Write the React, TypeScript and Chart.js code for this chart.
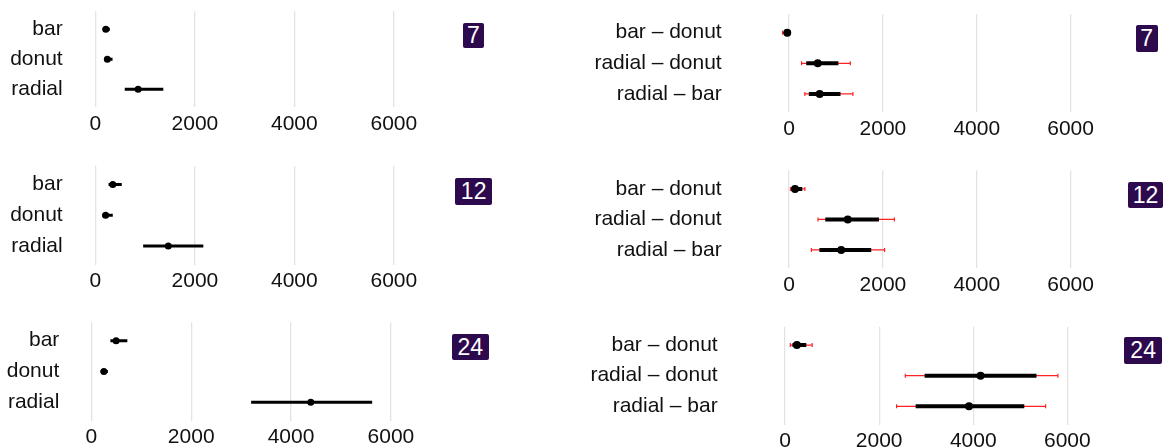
import React, { useEffect, useRef } from 'react';
import { Chart, registerables } from 'chart.js';

Chart.register(...registerables);

// ---------- data ----------
const DESIGNS = ['bar', 'donut', 'radial'];
const CONTRASTS = ['bar – donut', 'radial – donut', 'radial – bar'];
const PANEL_LABELS = ['7', '12', '24'];
const X_TICKS = [0, 2000, 4000, 6000];

// estimates per design (left column)
const EST_7 = [210, 240, 860];
const LO_7 = [145, 185, 590];
const HI_7 = [290, 345, 1365];

const EST_12 = [350, 205, 1465];
const LO_12 = [265, 140, 960];
const HI_12 = [530, 350, 2170];

const EST_24 = [495, 250, 4395];
const LO_24 = [380, 185, 3200];
const HI_24 = [720, 330, 5625];

// contrasts (right column): estimate, inner interval, outer interval
const DIFF_7 = [-40, 610, 650];
const DIFF_IN_LO_7 = [-80, 365, 420];
const DIFF_IN_HI_7 = [0, 1050, 1095];
const DIFF_OUT_LO_7 = [-140, 265, 335];
const DIFF_OUT_HI_7 = [20, 1305, 1360];

const DIFF_12 = [125, 1250, 1110];
const DIFF_IN_LO_12 = [55, 770, 645];
const DIFF_IN_HI_12 = [280, 1915, 1750];
const DIFF_OUT_LO_12 = [28, 615, 475];
const DIFF_OUT_HI_12 = [335, 2245, 2035];

const DIFF_24 = [250, 4155, 3910];
const DIFF_IN_LO_24 = [155, 2965, 2775];
const DIFF_IN_HI_24 = [450, 5345, 5085];
const DIFF_OUT_LO_24 = [110, 2555, 2370];
const DIFF_OUT_HI_24 = [575, 5800, 5540];

// ---------- layout ----------
const FONT = "'Liberation Sans', Arial, Helvetica, sans-serif";

type Box = {
  canvasLeft: number; canvasTop: number; canvasW: number; canvasH: number;
  gridTop: number; gridBottom: number; zero: number; six: number; labelRight: number;
};

const LEFT_BOXES: Box[] = [
  { canvasLeft: 0, canvasTop: 0, canvasW: 450, canvasH: 150, gridTop: 11.3, gridBottom: 107.3, zero: 95.7, six: 397.3, labelRight: 62.7 },
  { canvasLeft: 0, canvasTop: 150, canvasW: 450, canvasH: 150, gridTop: 166, gridBottom: 264.5, zero: 95.7, six: 397.3, labelRight: 62.7 },
  { canvasLeft: 0, canvasTop: 300, canvasW: 450, canvasH: 148, gridTop: 322.2, gridBottom: 420.8, zero: 91.7, six: 394.3, labelRight: 59.3 },
];
const RIGHT_BOXES: Box[] = [
  { canvasLeft: 580, canvasTop: 0, canvasW: 530, canvasH: 150, gridTop: 14.3, gridBottom: 112.3, zero: 790, six: 1075.3, labelRight: 721.7 },
  { canvasLeft: 580, canvasTop: 150, canvasW: 530, canvasH: 150, gridTop: 170.6, gridBottom: 268.2, zero: 790, six: 1075.3, labelRight: 721.7 },
  { canvasLeft: 580, canvasTop: 300, canvasW: 530, canvasH: 148, gridTop: 326.7, gridBottom: 424.7, zero: 786, six: 1072, labelRight: 717.7 },
];
const LEFT_TAGS = [
  { l: 462.7, t: 22.7, w: 21.5, h: 25.5 },
  { l: 455, t: 178.3, w: 37.3, h: 26.7 },
  { l: 451.7, t: 334, w: 37.3, h: 26 },
];
const RIGHT_TAGS = [
  { l: 1135.7, t: 25, w: 22, h: 27.3 },
  { l: 1127.7, t: 181.7, w: 35.6, h: 26.6 },
  { l: 1124, t: 337.3, w: 38.3, h: 26.7 },
];

type PanelProps = {
  box: Box;
  cats: string[];
  est: number[];
  inLo: number[];
  inHi: number[];
  outLo?: number[];
  outHi?: number[];
};

function Panel({ box, cats, est, inLo, inHi, outLo, outHi }: PanelProps) {
  const ref = useRef<HTMLCanvasElement | null>(null);
  useEffect(() => {
    if (!ref.current) return;
    const isDiff = !!outLo;
    const L = box.labelRight + 4;
    const R = box.canvasLeft + box.canvasW;
    const k = (box.six - box.zero) / 6000;
    const xmin = -(box.zero - L) / k;
    const xmax = (R - box.zero) / k;
    const padTop = box.gridTop - box.canvasTop;
    const xAxisH = box.canvasTop + box.canvasH - box.gridBottom;
    const yAxisW = L - box.canvasLeft;

    const datasets: any[] = [];
    datasets.push({
      data: est.map((v, i) => ({ x: v, y: i })),
      pointRadius: isDiff ? 4 : 3.5,
      pointBackgroundColor: '#000',
      pointBorderColor: '#000',
      pointBorderWidth: 0,
      showLine: false,
      order: 0,
    });
    cats.forEach((_, i) => {
      datasets.push({
        data: [{ x: inLo[i], y: i }, { x: inHi[i], y: i }],
        showLine: true,
        borderColor: '#000',
        borderWidth: isDiff ? 4 : 3,
        pointRadius: 0,
        order: 1,
      });
      if (isDiff && outLo && outHi) {
        datasets.push({
          data: [{ x: outLo[i], y: i }, { x: outHi[i], y: i }],
          showLine: true,
          borderColor: '#ff2222',
          borderWidth: 1.2,
          pointStyle: 'line',
          pointRotation: 90,
          pointRadius: 2,
          pointBorderColor: '#ff2222',
          pointBorderWidth: 1.2,
          order: 2,
        });
      }
    });

    const chart = new Chart(ref.current, {
      type: 'scatter',
      data: { datasets },
      options: {
        animation: false,
        responsive: false,
        devicePixelRatio: 1,
        events: [],
        layout: { padding: { left: 0, right: 0, top: padTop, bottom: 0 } },
        plugins: { legend: { display: false }, tooltip: { enabled: false } },
        scales: {
          x: {
            type: 'linear',
            min: xmin,
            max: xmax,
            afterBuildTicks: (s: any) => { s.ticks = X_TICKS.map((v) => ({ value: v })); },
            afterFit: (s: any) => {
              s.height = xAxisH;
              s.paddingLeft = 0; s.paddingRight = 0; s.paddingTop = 0; s.paddingBottom = 0;
            },
            ticks: {
              padding: 4,
              color: '#111',
              autoSkip: false,
              maxRotation: 0,
              font: { family: FONT, size: 21 },
              callback: (v: any) => String(v),
            },
            grid: { color: '#e3e3e3', lineWidth: 1.3, drawTicks: false },
            border: { display: false },
          },
          y: {
            type: 'linear',
            min: -0.6,
            max: 2.6,
            reverse: true,
            afterBuildTicks: (s: any) => { s.ticks = cats.map((_, i) => ({ value: i })); },
            afterFit: (s: any) => {
              s.width = yAxisW;
              s.paddingLeft = 0; s.paddingRight = 0; s.paddingTop = 0; s.paddingBottom = 0;
            },
            ticks: {
              padding: 4,
              color: '#111',
              autoSkip: false,
              font: { family: FONT, size: 21 },
              callback: (v: any) => cats[v as number],
            },
            grid: { display: false, drawTicks: false },
            border: { display: false },
          },
        },
      },
    });
    return () => chart.destroy();
  }, []);
  return (
    <canvas
      ref={ref}
      width={box.canvasW}
      height={box.canvasH}
      style={{ position: 'absolute', left: box.canvasLeft, top: box.canvasTop, width: box.canvasW, height: box.canvasH }}
    />
  );
}

function Tag({ text, pos }: { text: string; pos: { l: number; t: number; w: number; h: number } }) {
  return (
    <div
      style={{
        position: 'absolute',
        left: pos.l,
        top: pos.t,
        width: pos.w,
        height: pos.h,
        lineHeight: pos.h + 'px',
        background: '#2d0a4e',
        color: '#fff',
        borderRadius: 2,
        fontFamily: FONT,
        fontSize: 23,
        textAlign: 'center',
      }}
    >
      {text}
    </div>
  );
}

export default function App() {
  const leftData = [
    { est: EST_7, lo: LO_7, hi: HI_7 },
    { est: EST_12, lo: LO_12, hi: HI_12 },
    { est: EST_24, lo: LO_24, hi: HI_24 },
  ];
  const rightData = [
    { est: DIFF_7, inLo: DIFF_IN_LO_7, inHi: DIFF_IN_HI_7, outLo: DIFF_OUT_LO_7, outHi: DIFF_OUT_HI_7 },
    { est: DIFF_12, inLo: DIFF_IN_LO_12, inHi: DIFF_IN_HI_12, outLo: DIFF_OUT_LO_12, outHi: DIFF_OUT_HI_12 },
    { est: DIFF_24, inLo: DIFF_IN_LO_24, inHi: DIFF_IN_HI_24, outLo: DIFF_OUT_LO_24, outHi: DIFF_OUT_HI_24 },
  ];
  return (
    <div style={{ position: 'absolute', left: 0, top: 0, width: 1169, height: 448, background: '#fff', overflow: 'hidden' }}>
      {leftData.map((d, i) => (
        <Panel key={'l' + i} box={LEFT_BOXES[i]} cats={DESIGNS} est={d.est} inLo={d.lo} inHi={d.hi} />
      ))}
      {rightData.map((d, i) => (
        <Panel key={'r' + i} box={RIGHT_BOXES[i]} cats={CONTRASTS} est={d.est} inLo={d.inLo} inHi={d.inHi} outLo={d.outLo} outHi={d.outHi} />
      ))}
      {PANEL_LABELS.map((t, i) => (
        <Tag key={'lt' + i} text={t} pos={LEFT_TAGS[i]} />
      ))}
      {PANEL_LABELS.map((t, i) => (
        <Tag key={'rt' + i} text={t} pos={RIGHT_TAGS[i]} />
      ))}
    </div>
  );
}
